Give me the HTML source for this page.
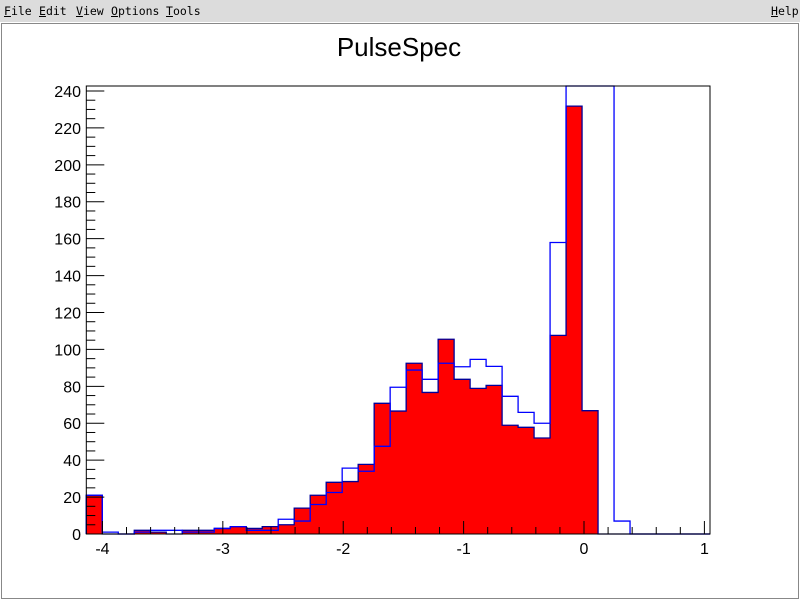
<!DOCTYPE html>
<html><head><meta charset="utf-8"><style>
body{margin:0;width:800px;height:600px;overflow:hidden;background:#fff;font-family:"Liberation Sans",sans-serif}
#menu{position:absolute;left:0;top:0;width:800px;height:22px;background:#dcdcdc;font-family:"DejaVu Sans Mono","Liberation Mono",monospace;font-size:11.5px}
#menu span{position:absolute;top:4px}
u{text-decoration:underline}
</style></head><body>
<div id="menu">
<span style="left:4px"><u>F</u>ile</span>
<span style="left:39px"><u>E</u>dit</span>
<span style="left:76px"><u>V</u>iew</span>
<span style="left:111px"><u>O</u>ptions</span>
<span style="left:166px"><u>T</u>ools</span>
<span style="left:771px"><u>H</u>elp</span>
</div>
<svg id="c" width="800" height="600" style="position:absolute;left:0;top:0">
<rect x="1.5" y="23.5" width="797" height="575" fill="none" stroke="#888"/>
<text x="399" y="56" font-size="26" text-anchor="middle">PulseSpec</text>
<g id="bars"></g>
<g id="axes"></g>
</svg>
<script>
const redValues=[21,0,0,2,1,0,2,2,3,4,3,4,5,14,21,28,28.4,37.7,70.8,66.6,92.5,76.7,105.5,83.8,78.9,80.5,58.9,57.8,52,107.6,231.8,66.8,0,0,0,0,0,0,0];
const blueValues=[21,1,0,1,2,2,1,1,3,4,2,2,8,7,16,22.5,35.7,34,47.5,79.5,88.8,83.8,92.5,90.6,94.6,90.8,74.6,65.9,60,157.9,300,300,300,7,0,0,0,0,0];
const xTicks=[-4,-3,-2,-1,0,1];
const yTicks=[0,20,40,60,80,100,120,140,160,180,200,220,240];
const X0=86.3,X1=710,Y0=534,Y1=86;
const xmin=-4.134,xmax=1.0465,ymax=242.7;
const nb=redValues.length,bw=(xmax-xmin)/nb;
const sx=v=>X0+(v-xmin)/(xmax-xmin)*(X1-X0);
const sy=v=>Y0-Math.min(v,ymax)/ymax*(Y0-Y1);
const NS='http://www.w3.org/2000/svg';
function mk(t,a,p){const e=document.createElementNS(NS,t);for(const k in a)e.setAttribute(k,a[k]);p.appendChild(e);return e;}
const bars=document.getElementById('bars'),axes=document.getElementById('axes');
function stepPath(vals){let d='M'+sx(xmin)+','+Y0;for(let i=0;i<nb;i++){const a=sx(xmin+i*bw),b=sx(xmin+(i+1)*bw),y=sy(vals[i]);d+=' L'+a+','+y+' L'+b+','+y;}d+=' L'+sx(xmax)+','+Y0;return d;}
const rf=mk('path',{d:stepPath(redValues)+' Z',fill:'#ff0000',stroke:'none'},bars);


const rp=mk('path',{d:stepPath(redValues),fill:'none',stroke:'#000099','stroke-width':1.3},bars);


const bp=mk('path',{d:stepPath(blueValues),fill:'none',stroke:'#0000ff','stroke-width':1.3},bars);


const fr=mk('rect',{x:X0,y:Y1,width:X1-X0,height:Y0-Y1,fill:'none',stroke:'#000','stroke-width':1},axes);


for(let v=0;v<=ymax;v+=5){const y=sy(v),maj=v%20===0;mk('line',{x1:X0,x2:X0+(maj?18:9),y1:y,y2:y,stroke:'#000'},axes);}
yTicks.forEach(v=>{const t=mk('text',{x:81,y:sy(v)+6,'font-size':16,'text-anchor':'end'},axes);t.textContent=v;

});
for(let v=-4;v<=1.001;v+=0.2){const x=sx(v),maj=Math.abs(v-Math.round(v))<1e-6;mk('line',{x1:x,x2:x,y1:Y0,y2:Y0-(maj?13:7),stroke:'#000'},axes);}
xTicks.forEach(v=>{const t=mk('text',{x:sx(v),y:554,'font-size':16,'text-anchor':'middle'},axes);t.textContent=v;

});
</script>
</body></html>
